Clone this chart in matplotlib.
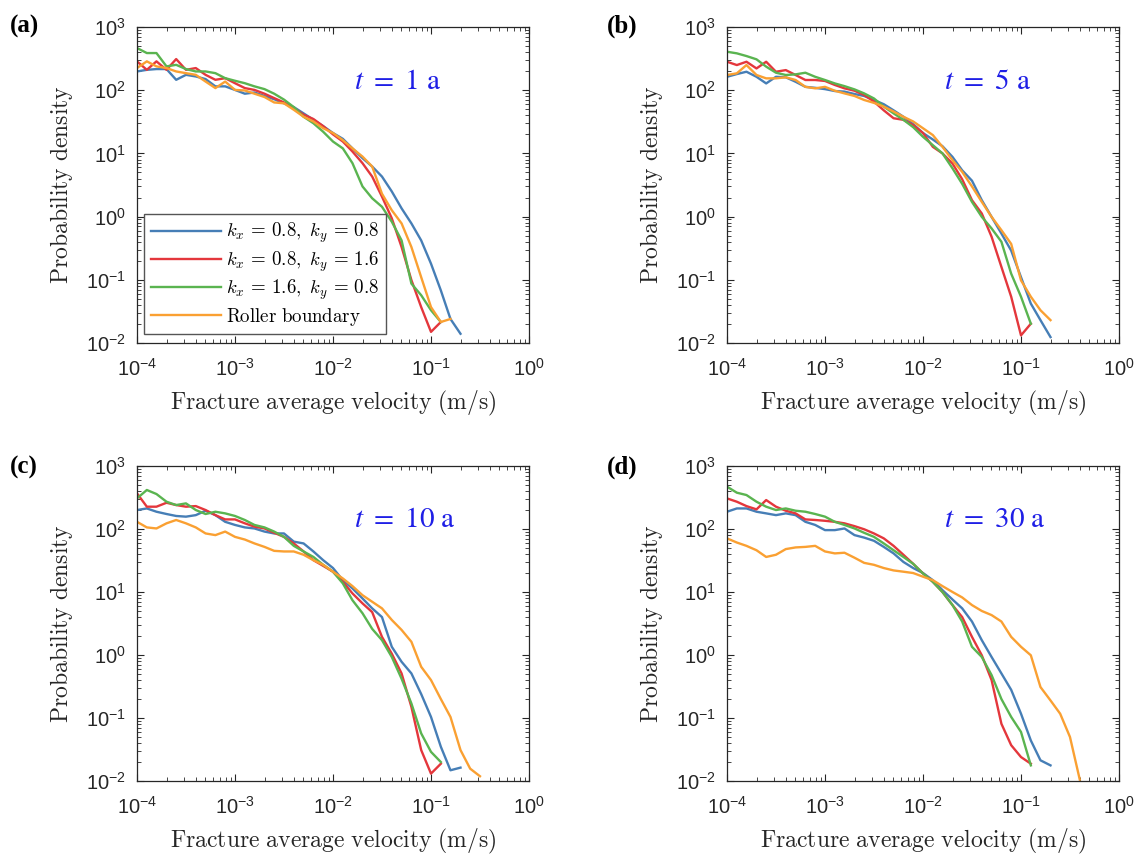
import matplotlib
matplotlib.use('Agg')
import matplotlib.pyplot as plt

plt.rcParams['font.family'] = ['Liberation Sans', 'DejaVu Sans']
plt.rcParams['mathtext.fontset'] = 'cm'

# bin centres of the velocity histogram (m/s)
velocity = [1.00e-4, 1.26e-4, 1.58e-4, 2.00e-4, 2.51e-4, 3.16e-4, 3.98e-4, 5.01e-4, 6.31e-4, 7.94e-4,
            1.00e-3, 1.26e-3, 1.58e-3, 2.00e-3, 2.51e-3, 3.16e-3, 3.98e-3, 5.01e-3, 6.31e-3, 7.94e-3,
            1.00e-2, 1.26e-2, 1.58e-2, 2.00e-2, 2.51e-2, 3.16e-2, 3.98e-2, 5.01e-2, 6.31e-2, 7.94e-2,
            0.100, 0.126, 0.158, 0.200, 0.251, 0.316, 0.398]

labels = [r'$k_x\,=\,0.8,\ k_y\,=\,0.8$', r'$k_x\,=\,0.8,\ k_y\,=\,1.6$',
          r'$k_x\,=\,1.6,\ k_y\,=\,0.8$', r'$\mathrm{Roller\ boundary}$']
colors = ['#467eb6', '#e4373c', '#5ab450', '#faa032']
times = ['1', '5', '10', '30']
panel_tags = ['(a)', '(b)', '(c)', '(d)']

# t = 1 a
a_blue = [198, 210, 216, 216, 146, 175, 165, 150, 115, 115, 101, 88, 92, 81, 72, 62, 54, 43, 34, 27,
          21, 17, 12, 8.4, 6.2, 4.3, 2.5, 1.35, 0.78, 0.42, 0.18, 0.068, 0.024, 0.014]
a_red = [286, 210, 286, 210, 311, 210, 224, 175, 146, 155, 129, 108, 101, 88, 75, 64, 52, 41, 35, 27,
         20, 15.4, 10.7, 7.0, 4.3, 2.07, 0.94, 0.33, 0.099, 0.037, 0.015, 0.0215]
a_green = [465, 387, 387, 238, 252, 216, 198, 198, 186, 155, 141, 129, 115, 104, 88, 71, 54, 38, 30, 22,
           15.4, 12, 7.0, 3.0, 1.95, 1.43, 0.83, 0.42, 0.087, 0.057, 0.033, 0.0215]
a_orange = [224, 286, 238, 224, 198, 186, 175, 137, 108, 137, 101, 99, 88, 78, 64, 62, 49, 38, 32, 25,
            21, 16.2, 12, 8.9, 6.2, 2.3, 1.26, 0.78, 0.33, 0.11, 0.037, 0.0215, 0.024]

# t = 5 a
b_blue = [163, 180, 196, 163, 128, 163, 160, 136, 113, 109, 104, 97, 95, 87, 81, 70, 60, 48, 38, 29,
          21, 16.6, 13, 8.8, 5.4, 3.7, 1.82, 0.99, 0.54, 0.29, 0.11, 0.042, 0.023, 0.0124]
b_red = [282, 250, 282, 221, 282, 196, 208, 174, 145, 145, 140, 121, 107, 98, 84, 66, 48, 36, 34, 28,
         21, 12.7, 10, 6.9, 3.9, 1.82, 1.12, 0.48, 0.16, 0.054, 0.0132, 0.0202]
b_green = [406, 383, 347, 308, 236, 189, 174, 178, 189, 163, 145, 128, 116, 103, 89, 74, 55, 43, 34, 26,
           18.3, 13.5, 10, 5.8, 3.3, 1.71, 0.99, 0.65, 0.40, 0.125, 0.054, 0.0202]
b_orange = [174, 185, 250, 174, 154, 154, 160, 145, 113, 107, 113, 98, 89, 81, 70, 63, 55, 46, 38, 32,
            25, 19.5, 12.7, 7.8, 5.1, 3.0, 1.71, 0.99, 0.61, 0.37, 0.098, 0.054, 0.033, 0.023]

# t = 10 a
c_blue = [200, 212, 188, 173, 161, 157, 166, 195, 166, 130, 116, 106, 102, 91, 85, 85, 63, 59, 44, 32,
          24, 15.4, 11.4, 7.9, 5.5, 4.0, 1.35, 0.78, 0.51, 0.24, 0.104, 0.035, 0.0148, 0.0163]
c_red = [368, 226, 226, 261, 240, 226, 231, 200, 166, 142, 142, 123, 109, 102, 87, 75, 59, 44, 32, 26,
         21, 14.5, 9.5, 6.6, 4.8, 1.94, 1.05, 0.51, 0.15, 0.031, 0.0131, 0.0188]
c_green = [306, 416, 359, 271, 240, 255, 200, 173, 188, 177, 161, 139, 116, 106, 91, 75, 54, 44, 36, 27,
           21, 13.7, 7.4, 4.6, 2.6, 1.72, 0.93, 0.42, 0.17, 0.057, 0.029, 0.020]
c_orange = [130, 106, 102, 123, 139, 123, 106, 85, 80, 91, 75, 68, 59, 52, 45, 44, 44, 39, 32, 27,
            21, 16.4, 12.4, 8.9, 7.0, 5.5, 3.6, 2.5, 1.62, 0.65, 0.40, 0.20, 0.104, 0.031, 0.0157, 0.0119]

# t = 30 a
d_blue = [188, 212, 212, 188, 177, 166, 177, 166, 130, 116, 96, 96, 102, 80, 73, 65, 52, 41, 30, 24,
          20, 15.4, 10.7, 7.6, 5.5, 3.4, 1.72, 0.93, 0.51, 0.28, 0.117, 0.044, 0.0213, 0.0177]
d_red = [306, 271, 231, 205, 288, 226, 195, 177, 142, 139, 135, 130, 123, 111, 99, 85, 71, 54, 39, 28,
         19.7, 14.5, 10, 6.2, 4.0, 1.94, 0.99, 0.40, 0.081, 0.037, 0.024, 0.0188]
d_green = [470, 377, 346, 271, 226, 200, 212, 195, 188, 173, 157, 130, 116, 102, 87, 75, 59, 46, 36, 28,
           19.7, 14.5, 10, 6.2, 3.4, 1.35, 0.93, 0.48, 0.20, 0.104, 0.060, 0.0177]
d_orange = [71, 61, 54, 46, 36, 39, 48, 51, 52, 54, 44, 41, 42, 35, 29, 27, 24, 22, 21, 20,
            17.5, 15.4, 12.4, 10, 8.2, 6.2, 5.0, 4.3, 3.4, 1.94, 1.35, 0.99, 0.31, 0.19, 0.117, 0.050, 0.0105]

panels = [[a_blue, a_red, a_green, a_orange],
          [b_blue, b_red, b_green, b_orange],
          [c_blue, c_red, c_green, c_orange],
          [d_blue, d_red, d_green, d_orange]]

W, H = 1139, 858
fig = plt.figure(figsize=(W / 100, H / 100), dpi=100)

# axes boxes in pixels: left, top, right, bottom
boxes = [(137, 27, 529, 343), (727, 27, 1119, 343), (137, 466, 529, 781), (727, 466, 1119, 781)]
tag_pos = [(10, 26), (607, 26), (10, 467), (607, 467)]

for k in range(4):
    l, t, r, b = boxes[k]
    ax = fig.add_axes([l / W, 1 - b / H, (r - l) / W, (b - t) / H])
    for series, c, lab in zip(panels[k], colors, labels):
        ax.plot(velocity[:len(series)], series, color=c, lw=1.7, label=lab)
    ax.set_xscale('log')
    ax.set_yscale('log')
    ax.set_xlim(1e-4, 1)
    ax.set_ylim(1e-2, 1e3)

    for s in ax.spines.values():
        s.set_color('#262626')
        s.set_linewidth(0.9)
    ax.tick_params(which='both', direction='in', top=True, right=True, color='#262626',
                   labelcolor='#262626', labelsize=14.5)
    ax.tick_params(which='major', length=5, width=0.8)
    ax.tick_params(which='minor', length=2.8, width=0.6)
    ax.tick_params(axis='x', which='major', pad=11)
    ax.tick_params(axis='y', which='major', pad=8)

    ax.set_xlabel(r'$\mathrm{Fracture\ average\ velocity\ (m/s)}$', fontsize=17, color='#262626')
    ax.set_ylabel(r'$\mathrm{Probability\ density}$', fontsize=17, color='#262626')
    ax.xaxis.set_label_coords(0.5, -0.145)
    ax.yaxis.set_label_coords(-0.158, 0.5)

    ax.text(0.553, 0.805, r'$t\ =\ ' + times[k] + r'\ \mathrm{a}$', transform=ax.transAxes,
            math_fontfamily='stix', fontsize=21, color='#1f1fe6', ha='left', va='baseline')

    if k == 0:
        leg = ax.legend(loc='lower left', bbox_to_anchor=(0.018, 0.028), borderaxespad=0,
                        fontsize=13.6, handlelength=3.7, handletextpad=0.3, labelspacing=0.2,
                        borderpad=0.35, fancybox=False, framealpha=1, edgecolor='#555555')
        leg.get_frame().set_linewidth(1.0)

    tx, ty = tag_pos[k]
    fig.text(tx / W, 1 - ty / H, panel_tags[k], fontfamily='Liberation Serif', fontweight='bold',
             fontsize=18, ha='left', va='center')

fig.savefig('out.png', dpi=100)
